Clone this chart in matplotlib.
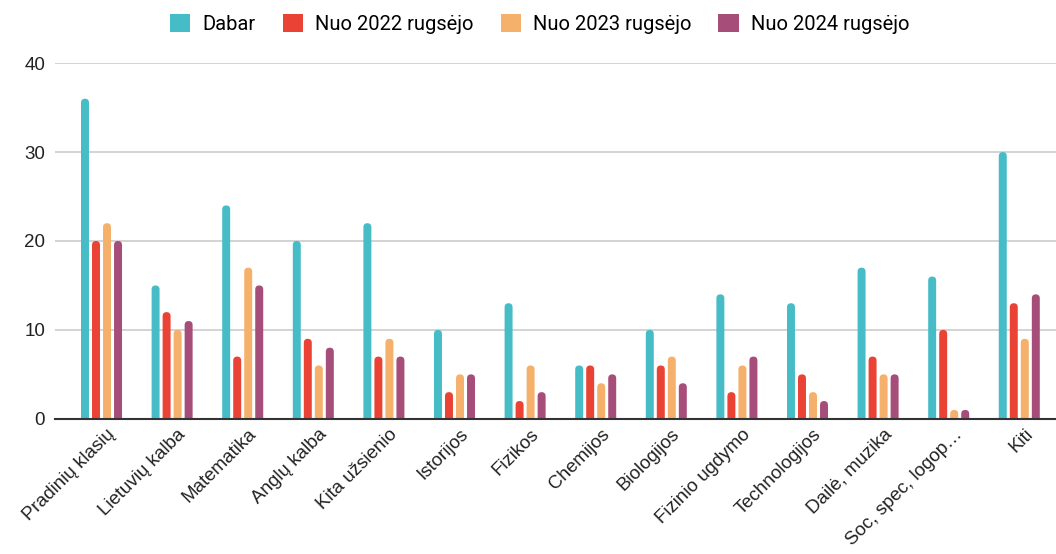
import matplotlib
matplotlib.use("Agg")
import matplotlib.pyplot as plt
from matplotlib.patches import FancyBboxPatch
import matplotlib.transforms as mtransforms
import numpy as np

plt.rcParams['font.family'] = ['Liberation Sans', 'DejaVu Sans']

categories = ["Pradinių klasių", "Lietuvių kalba", "Matematika", "Anglų kalba",
              "Kita užsienio", "Istorijos", "Fizikos", "Chemijos", "Biologijos",
              "Fizinio ugdymo", "Technologijos", "Dailė, muzika",
              "Soc, spec, logop…", "Kiti"]
series_names = ["Dabar", "Nuo 2022 rugsėjo", "Nuo 2023 rugsėjo", "Nuo 2024 rugsėjo"]
dabar = [36, 15, 24, 20, 22, 10, 13, 6, 10, 14, 13, 17, 16, 30]
nuo_2022 = [20, 12, 7, 9, 7, 3, 2, 6, 6, 3, 5, 7, 10, 13]
nuo_2023 = [22, 10, 17, 6, 9, 5, 6, 4, 7, 6, 3, 5, 1, 9]
nuo_2024 = [20, 11, 15, 8, 7, 5, 3, 5, 4, 7, 2, 5, 1, 14]
colors = ["#46BDC6", "#EA4335", "#F5B06C", "#A64D79"]
yticks = [0, 10, 20, 30, 40]

fig = plt.figure(figsize=(10.56, 5.54), dpi=100)
ax = fig.add_axes([0.052, 0.244, 0.948, 0.642])

x = np.arange(len(categories))
width = 0.113
step = 0.156
all_series = [dabar, nuo_2022, nuo_2023, nuo_2024]
handles = []
for i, (vals, c, name) in enumerate(zip(all_series, colors, series_names)):
    offs = (i - 1.5) * step
    bars = ax.bar(x + offs, vals, width, color=c, label=name)
    for p in bars.patches:
        p.set_visible(False)
        bx, bw, bh = p.get_x(), p.get_width(), p.get_height()
        ext = 0.6
        fp = FancyBboxPatch((bx, -ext), bw, bh + ext,
                            boxstyle="round,pad=0,rounding_size=%f" % (bw / 2),
                            mutation_aspect=8.0, facecolor=c, edgecolor='none',
                            clip_on=True)
        ax.add_patch(fp)
        fp.set_clip_path(ax.patch)
    handles.append(plt.Rectangle((0, 0), 1, 1, facecolor=c, edgecolor='none'))

ax.set_xlim(-0.66, len(categories) - 1 + 0.52)
ax.set_ylim(0, 40)
ax.set_yticks(yticks)
ax.set_yticklabels([str(t) for t in yticks], fontsize=13.5, color='#222222')
ax.yaxis.grid(True, color='#cccccc', linewidth=1.2)
ax.set_axisbelow(True)
for s in ['top', 'right', 'left']:
    ax.spines[s].set_visible(False)
ax.spines['bottom'].set_color('#333333')
ax.spines['bottom'].set_linewidth(1.5)
ax.spines['bottom'].set_zorder(5)
ax.tick_params(axis='y', length=0, pad=7)
ax.tick_params(axis='x', length=0, pad=5)
ax.set_xticks(x)
ax.set_xticklabels(categories, rotation=45, ha='right', rotation_mode='anchor',
                   fontsize=13.5, color='#222222')
offset = mtransforms.ScaledTranslation(5 / 100, 0, fig.dpi_scale_trans)
for lbl in ax.get_xticklabels():
    lbl.set_transform(lbl.get_transform() + offset)

fig.legend(handles, series_names, loc='upper center', bbox_to_anchor=(0.511, 1.008),
           ncol=4, frameon=False, handlelength=1.0, handleheight=1.0,
           columnspacing=1.35, handletextpad=0.6,
           prop={'family': ['Roboto', 'DejaVu Sans'], 'size': 14.5})

fig.savefig("out.png", dpi=100)
